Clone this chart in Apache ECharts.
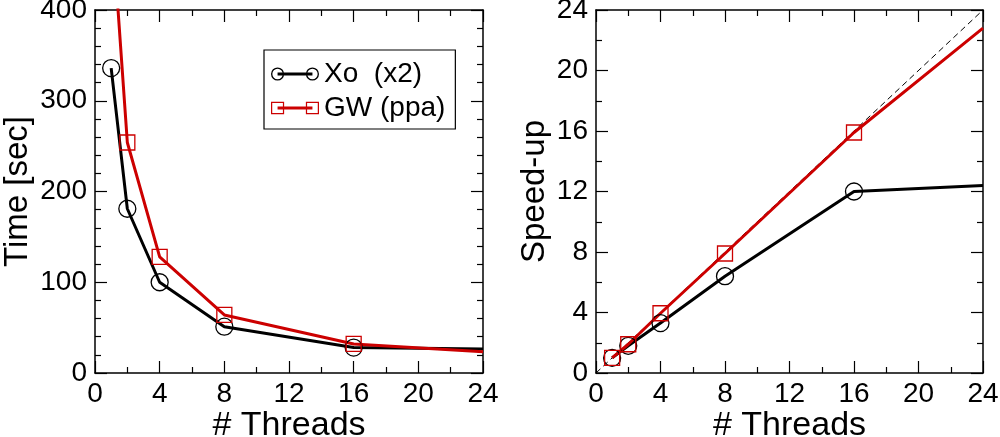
<!DOCTYPE html>
<html><head><meta charset="utf-8">
<script src="https://cdn.jsdelivr.net/npm/echarts@6/dist/echarts.min.js"></script>
<style>html,body{margin:0;padding:0;background:#fff}#c{width:1000px;height:437px}</style>
</head><body><div id="c"></div>
<script>
const threads = [1, 2, 4, 8, 16, 24];
const xoTime = [336, 181, 100, 51, 28, 26.5];
const gwTime = [508, 254, 128, 64, 32, 23.5];
const xoSpeedup = [1, 1.8, 3.3, 6.4, 12, 12.4];
const gwSpeedup = [1, 1.9, 3.95, 7.9, 15.9, 22.8];
// the last thread count (24) is drawn without a marker in the reference
const markedThreads = [1, 2, 4, 8, 16];
const idealX = [0, 24];
const idealY = [0, 24];
const xTicks = [0, 4, 8, 12, 16, 20, 24];
const timeTicks = [0, 100, 200, 300, 400];
const speedTicks = [0, 4, 8, 12, 16, 20, 24];
const seriesNames = ['Xo  (x2)', 'GW (ppa)'];

const FONT = '"Liberation Sans", Arial, Helvetica, sans-serif';
const BLACK = '#000000';
const RED = '#cc0000';
const pairs = (xs, ys) => xs.map((x, i) => [x, ys[i]]);
const markedPairs = (xs, ys) => xs.map((x, i) =>
  markedThreads.indexOf(x) >= 0 ? { value: [x, ys[i]] } : { value: [x, ys[i]], symbol: 'none' });

const circleIcon = 'path://M0.6,7 A6.4,6.4 0 1 1 13.4,7 A6.4,6.4 0 1 1 0.6,7 Z M1.9,7 A5.1,5.1 0 1 0 12.1,7 A5.1,5.1 0 1 0 1.9,7 Z ' +
  'M7,5.6 L41,5.6 L41,8.4 L7,8.4 Z ' +
  'M34.6,7 A6.4,6.4 0 1 1 47.4,7 A6.4,6.4 0 1 1 34.6,7 Z M35.9,7 A5.1,5.1 0 1 0 46.1,7 A5.1,5.1 0 1 0 35.9,7 Z';
const squareIcon = 'path://M0.6,1 L13.4,1 L13.4,13 L0.6,13 Z M1.8,2.2 L1.8,11.8 L12.2,11.8 L12.2,2.2 Z ' +
  'M7,5.6 L41,5.6 L41,8.4 L7,8.4 Z ' +
  'M34.6,1 L47.4,1 L47.4,13 L34.6,13 Z M35.8,2.2 L35.8,11.8 L46.2,11.8 L46.2,2.2 Z';

function xAx(grid, pos) {
  return {
    type: 'value', gridIndex: grid, position: pos, min: xTicks[0], max: xTicks[xTicks.length - 1],
    interval: xTicks[1] - xTicks[0],
    name: pos === 'bottom' ? '# Threads' : '', nameLocation: 'middle', nameGap: 36, nameMoveOverlap: false,
    nameTextStyle: { fontSize: 34, color: BLACK, fontFamily: FONT },
    axisLine: { show: true, onZero: false, lineStyle: { color: BLACK, width: 1.5 } },
    axisTick: { show: true, inside: true, length: 12, lineStyle: { color: BLACK, width: 1.2 } },
    minorTick: { show: true, splitNumber: 2, length: 6, lineStyle: { color: BLACK, width: 1.2 } },
    axisLabel: { show: pos === 'bottom', fontSize: 28, color: BLACK, fontFamily: FONT, margin: 7 },
    splitLine: { show: false }
  };
}
function yAx(grid, pos, ticks, minorSplit, name, gap) {
  return {
    type: 'value', gridIndex: grid, position: pos, min: ticks[0], max: ticks[ticks.length - 1],
    interval: ticks[1] - ticks[0],
    name: pos === 'left' ? name : '', nameLocation: 'middle', nameGap: gap, nameMoveOverlap: false,
    nameTextStyle: { fontSize: 33, color: BLACK, fontFamily: FONT },
    axisLine: { show: true, onZero: false, lineStyle: { color: BLACK, width: 1.5 } },
    axisTick: { show: true, inside: true, length: 12, lineStyle: { color: BLACK, width: 1.2 } },
    minorTick: { show: true, splitNumber: minorSplit, length: 6, lineStyle: { color: BLACK, width: 1.2 } },
    axisLabel: { show: pos === 'left', fontSize: 28, color: BLACK, fontFamily: FONT, margin: 8 },
    splitLine: { show: false }
  };
}
function lineSeries(name, xi, yi, ys, color, symbol, size) {
  return {
    name: name, type: 'line', xAxisIndex: xi, yAxisIndex: yi,
    data: markedPairs(threads, ys), symbol: symbol, symbolSize: size, showSymbol: true,
    lineStyle: { color: color, width: 3 },
    itemStyle: { color: 'rgba(0,0,0,0)', borderColor: color, borderWidth: 1.3 },
    emphasis: { disabled: true }, animation: false, z: 3
  };
}

const chart = echarts.init(document.getElementById('c'), null, { renderer: 'canvas' });
chart.setOption({
  animation: false,
  textStyle: { fontFamily: FONT },
  grid: [
    { left: 95, top: 10, width: 388, height: 363, containLabel: false, outerBoundsMode: 'none' },
    { left: 596, top: 10, width: 387, height: 363, containLabel: false, outerBoundsMode: 'none' }
  ],
  xAxis: [xAx(0, 'bottom'), xAx(0, 'top'), xAx(1, 'bottom'), xAx(1, 'top')],
  yAxis: [
    yAx(0, 'left', timeTicks, 5, 'Time [sec]', 61),
    yAx(0, 'right', timeTicks, 5, '', 0),
    yAx(1, 'left', speedTicks, 2, 'Speed-up', 45),
    yAx(1, 'right', speedTicks, 2, '', 0)
  ],
  legend: {
    left: 264, top: 50, orient: 'vertical',
    padding: [10, 10, 7, 7], itemGap: 6, itemWidth: 48, itemHeight: 14, itemTextGap: 8,
    borderColor: BLACK, borderWidth: 1.2, selectedMode: false,
    textStyle: { fontSize: 28, color: BLACK, fontFamily: FONT },
    data: [
      { name: seriesNames[0], icon: circleIcon, itemStyle: { color: BLACK, borderWidth: 0 } },
      { name: seriesNames[1], icon: squareIcon, itemStyle: { color: RED, borderWidth: 0 } }
    ]
  },
  series: [
    lineSeries(seriesNames[0], 0, 0, xoTime, BLACK, 'circle', 17),
    lineSeries(seriesNames[1], 0, 0, gwTime, RED, 'rect', 15),
    {
      name: 'ideal', type: 'line', xAxisIndex: 2, yAxisIndex: 2,
      data: pairs(idealX, idealY), symbol: 'none',
      lineStyle: { color: BLACK, width: 1, type: [6, 4] }, silent: true, z: 1
    },
    lineSeries(seriesNames[0], 2, 2, xoSpeedup, BLACK, 'circle', 17),
    lineSeries(seriesNames[1], 2, 2, gwSpeedup, RED, 'rect', 15)
  ]
});
</script></body></html>
